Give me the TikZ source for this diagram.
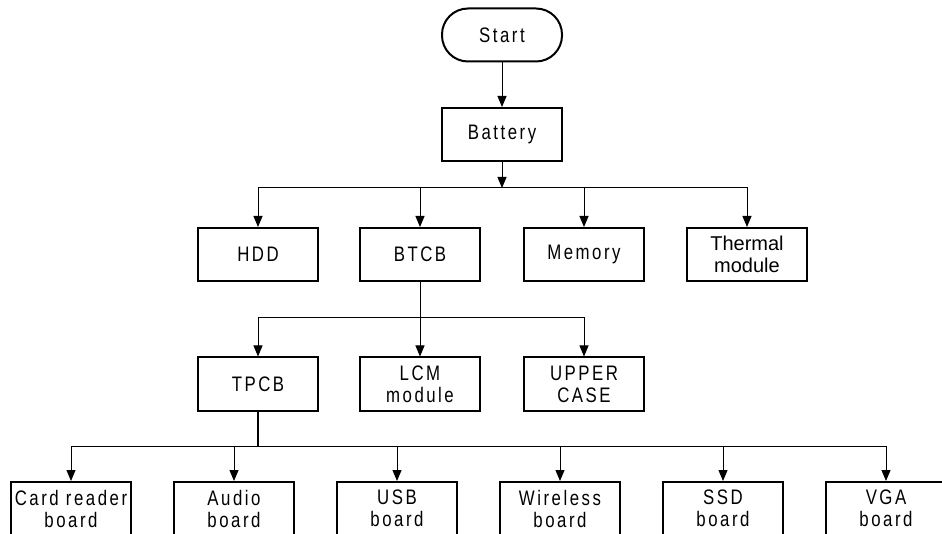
\documentclass[tikz,border=0pt]{standalone}
\usepackage{fontspec}
\setmainfont{Liberation Sans}[FakeStretch=0.8,LetterSpace=12]
\newfontfamily\plainfont{Liberation Sans}
\usepackage{tikz}
\usetikzlibrary{arrows.meta}

\newcommand\boxsize{\fontsize{21}{22}\selectfont}

\begin{document}
\begin{tikzpicture}[x=1pt,y=-1pt,
    box/.style={draw,line width=2pt,minimum width=120pt,minimum height=53pt,
                inner sep=0pt,align=center,font=\boxsize},
    arr/.style={-{Triangle[length=11pt,width=9pt]},line width=1pt},
    bus/.style={line width=1pt}]
    \useasboundingbox (0,0) rectangle (942,534);

    \node[box,rounded corners=26pt] (start) at (502,35) {Start};
    \node[box] (battery) at (502,134.5) {Battery};

    \foreach \x/\name/\lab in {258/hdd/HDD, 420/btcb/BTCB, 584/memory/Memory} {
        \node[box] (\name) at (\x,254.5) {\lab};
    }
    \node[box,font=\plainfont\fontsize{20}{22}\selectfont] (thermal) at (747,254.5) {Thermal\\module};

    \foreach \x/\name/\lab in {258/tpcb/TPCB, 420/lcm/LCM\\module, 584/upper/UPPER\\CASE} {
        \node[box] (\name) at (\x,384) {\lab};
    }

    \foreach \i/\name/\lab in {0/card/Card reader\\board, 1/audio/Audio\\board, 2/usb/USB\\board,
                                3/wireless/Wireless\\board, 4/ssd/SSD\\board, 5/vga/VGA\\board} {
        \pgfmathsetmacro\myx{71+163*\i}
        \node[box] (\name) at (\myx,508.5) {\lab};
    }

    \coordinate (bus1) at (502,188);
    \coordinate (bus2) at (420,318);
    \coordinate (bus3) at (258,446);

    \draw[arr] (start) -- (battery);
    \draw[arr] (battery) -- (bus1);
    \foreach \name in {hdd,btcb,memory,thermal} {
        \draw[arr] (bus1) -| (\name);
    }

    \draw[bus] (btcb) -- (bus2);
    \foreach \name in {tpcb,lcm,upper} {
        \draw[arr] (bus2) -| (\name);
    }

    \draw[bus,line width=1.5pt] (tpcb) -- (bus3);
    \foreach \name in {card,audio,usb,wireless,ssd,vga} {
        \draw[arr] (bus3) -| (\name);
    }
\end{tikzpicture}
\end{document}
